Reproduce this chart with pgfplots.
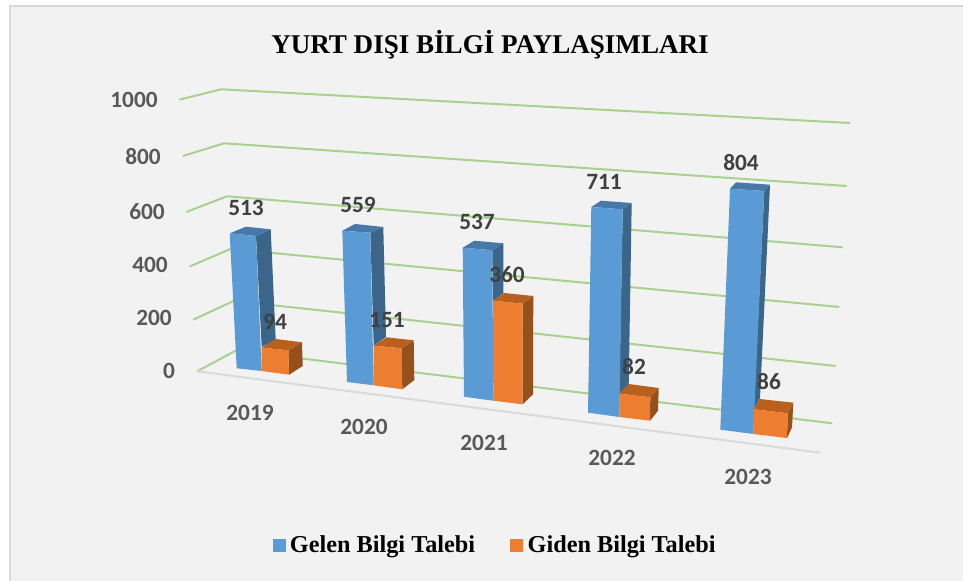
\documentclass[border=0pt]{standalone}
\usepackage{fontspec}
\usepackage{pgfplots}
\pgfplotsset{compat=1.18}
\setmainfont{Liberation Serif}
\newfontfamily\calfont{Carlito}
\definecolor{pagebg}{HTML}{F2F2F2}
\definecolor{framecol}{HTML}{D9D9D9}
\definecolor{gridcol}{HTML}{A9D18E}
\definecolor{floorcol}{HTML}{D9D9D9}
\definecolor{bluef}{HTML}{5B9BD5}
\definecolor{bluet}{HTML}{4679A8}
\definecolor{blues}{HTML}{3B6589}
\definecolor{orangef}{HTML}{ED7D31}
\definecolor{oranget}{HTML}{B9601F}
\definecolor{oranges}{HTML}{96501B}
\definecolor{ticktext}{HTML}{595959}
\definecolor{valtext}{HTML}{404040}
\pgfplotsset{
  face/.style={forget plot, draw=none, fill=#1, mark=none},
  gridl/.style={forget plot, gridcol, line width=1.5pt, mark=none},
  labels/.style={forget plot, draw=none, mark=none, nodes near coords,
    point meta=explicit symbolic,
    nodes near coords style={anchor=center, inner sep=0pt, font=\calfont\bfseries\fontsize{17.5}{20}\selectfont, text=#1}},
}
\begin{document}
\begin{tikzpicture}
\begin{axis}[
  hide axis, scale only axis, clip=false,
  width=722.25pt, height=435.75pt,
  xmin=0, xmax=963, ymin=0, ymax=581, y dir=reverse,
  title style={at={(axis cs:490,43)}, anchor=center, yshift=-7.5pt, inner sep=0pt, font=\bfseries\fontsize{20.3}{24}\selectfont},
  title={YURT DIŞI BİLGİ PAYLAŞIMLARI},
  legend style={at={(axis cs:496.5,545)}, anchor=center, draw=none, fill=none, inner sep=0pt,
    legend columns=2, font=\bfseries\fontsize{18.2}{20}\selectfont,
    /tikz/every even column/.append style={column sep=26pt}},
  legend image code/.code={\path (0pt,0pt) (9pt,0pt);\fill[#1,overlay] (-1.5pt,-4.5pt) rectangle (7.5pt,4.5pt);},
]
% page and frame
\addplot[face=white] coordinates {(0,0) (963,0) (963,581) (0,581)} -- cycle;
\addplot[face=framecol] coordinates {(9,5) (963,5) (963,581) (9,581)} -- cycle;
\addplot[face=pagebg] coordinates {(11,7) (963,7) (963,581) (11,581)} -- cycle;

% gridlines: front left, back left, back right
\addplot[gridl] coordinates {(179.3,99.7) (221,89.3) (850,123)};
\addplot[gridl] coordinates {(183,156) (224,143.3) (846.7,186)};
\addplot[gridl] coordinates {(186.3,212) (227,196.3) (842.7,247.3)};
\addplot[gridl] coordinates {(189.7,266.5) (230.5,249) (839.3,307)};
\addplot[gridl] coordinates {(193.3,319.7) (233.5,301) (835.7,366)};
\addplot[gridl] coordinates {(197.3,371.3) (236,350.5) (832.3,423.3)};
% floor edge
\addplot[forget plot, floorcol, line width=1.5pt, mark=none] coordinates {(197.3,371.3) (820,452.7)};

% 2019
\addplot[face=blues] coordinates {(256,236) (270.7,229.3) (275.7,340) (261.7,347)} -- cycle;
\addplot[face=bluet] coordinates {(229.7,233.3) (246,226.7) (270.7,229.3) (256,236)} -- cycle;
\addplot[face=bluef] coordinates {(229.7,233.3) (256,236) (261.7,371) (236.7,368.3)} -- cycle;
\addplot[face=oranges] coordinates {(288.3,350.3) (302,342.3) (302.7,366) (289,374.7)} -- cycle;
\addplot[face=oranget] coordinates {(261.7,347.7) (276,339) (302,342.3) (288.3,350.3)} -- cycle;
\addplot[face=orangef] coordinates {(261.7,347.7) (288.3,350.3) (289,374.7) (261.7,371)} -- cycle;
% 2020
\addplot[face=blues] coordinates {(370.3,232.7) (383.3,227) (386,337) (373.7,345.7)} -- cycle;
\addplot[face=bluet] coordinates {(342.3,230.7) (355,224) (383.3,227) (370.3,232.7)} -- cycle;
\addplot[face=bluef] coordinates {(342.3,230.7) (370.3,232.7) (373.7,385.3) (347,382)} -- cycle;
\addplot[face=oranges] coordinates {(401.7,348.3) (413.7,340.3) (414.3,380) (402.3,389.3)} -- cycle;
\addplot[face=oranget] coordinates {(373.7,345.7) (386.7,337.3) (413.7,340.3) (401.7,348.3)} -- cycle;
\addplot[face=orangef] coordinates {(373.7,345.7) (401.7,348.3) (402.3,389.3) (373.7,385.3)} -- cycle;
% 2021
\addplot[face=blues] coordinates {(492.3,250.3) (503.3,243.3) (503.3,293.3) (493,300.7)} -- cycle;
\addplot[face=bluet] coordinates {(462.7,247.7) (474.3,240.7) (503.3,243.3) (492.3,250.3)} -- cycle;
\addplot[face=bluef] coordinates {(462.7,247.7) (492.3,250.3) (493.3,400.7) (464,396.7)} -- cycle;
\addplot[face=oranges] coordinates {(522.7,303.7) (533.3,296) (533,394.3) (522.7,404.3)} -- cycle;
\addplot[face=oranget] coordinates {(493,300.7) (504,293) (533.3,296) (522.7,303.7)} -- cycle;
\addplot[face=orangef] coordinates {(493,300.7) (522.7,303.7) (522.7,404.3) (493.3,400.7)} -- cycle;
% 2022
\addplot[face=blues] coordinates {(622.7,209.3) (631.7,203) (628.7,385) (619.3,393.7)} -- cycle;
\addplot[face=bluet] coordinates {(591.3,207) (601,200.7) (631.7,203) (622.7,209.3)} -- cycle;
\addplot[face=bluef] coordinates {(591.3,207) (622.7,209.3) (619.3,417) (588,412.7)} -- cycle;
\addplot[face=oranges] coordinates {(650.3,397.3) (658.7,388) (658,410.7) (650,420.7)} -- cycle;
\addplot[face=oranget] coordinates {(619.3,393.7) (628.7,384) (658.7,388) (650.3,397.3)} -- cycle;
\addplot[face=orangef] coordinates {(619.3,393.7) (650.3,397.3) (650,420.7) (619.3,417)} -- cycle;
% 2023
\addplot[face=blues] coordinates {(764.3,191) (770,184.7) (760,398.3) (753.7,409.3)} -- cycle;
\addplot[face=bluet] coordinates {(730,188.7) (736,182.3) (770,184.7) (764.3,191)} -- cycle;
\addplot[face=bluef] coordinates {(730,188.7) (764.3,191) (753.3,434) (720.3,429.7)} -- cycle;
\addplot[face=oranges] coordinates {(787.7,413.3) (793.3,402.7) (792,427.3) (787,438)} -- cycle;
\addplot[face=oranget] coordinates {(753.7,409.3) (760,399) (793.3,402.7) (787.7,413.3)} -- cycle;
\addplot[face=orangef] coordinates {(753.7,409.3) (787.7,413.3) (787,438) (753.3,434)} -- cycle;

% value axis labels
\addplot[labels=ticktext] table[meta=v] {
x y v
134 100 1000
143 157 800
147 212 600
150 265 400
154 318 200
169 371 0
};
% category labels
\addplot[labels=ticktext] table[meta=v] {
x y v
250 413 2019
364 427 2020
484 443 2021
612 458 2022
748 477 2023
};
% value labels
\addplot[labels=valtext] table[meta=v] {
x y v
246 208 513
358 205 559
477 222 537
604 182 711
741 163 804
275 322 94
387 320 151
507 275 360
634 367 82
769 382 86
};
\addlegendimage{bluef}
\addlegendentry{Gelen Bilgi Talebi}
\addlegendimage{orangef}
\addlegendentry{Giden Bilgi Talebi}
\end{axis}
\end{tikzpicture}
\end{document}
